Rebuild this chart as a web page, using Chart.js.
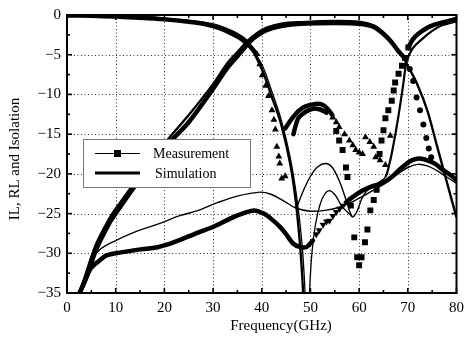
<!DOCTYPE html>
<html>
<head>
<meta charset="utf-8">
<script src="https://cdn.jsdelivr.net/npm/chart.js@4.4.1/dist/chart.umd.min.js"></script>
<style>
  html, body { margin: 0; padding: 0; background: #fff; }
</style>
</head>
<body>
<canvas id="chart" width="470" height="342"></canvas>
<script>
// axis ticks
const freqTicks = [0, 10, 20, 30, 40, 50, 60, 70, 80];
const levelTicks = [0, -5, -10, -15, -20, -25, -30, -35];

// simulated responses, [GHz, dB]
const simLowpass = [[0, 0], [5, -0.05], [10, -0.12], [15, -0.25], [20, -0.45], [25, -0.75], [30, -1.2], [33, -1.8], [35, -2.4], [37, -3.3], [40, -6.8], [42, -10.2], [44, -13.8], [45.8, -18.6], [47, -23.5], [48, -30], [48.5, -35], [48.8, -40]];
const simLowpassStop = [[37, -3.4], [40, -6.2], [42, -9.5], [44, -13.2], [45.8, -17.8], [47.2, -23], [48.3, -29], [48.9, -35], [49.35, -42], [49.8, -35], [50.3, -30], [51, -26.5], [52, -23.8], [53, -22.5], [53.9, -22.1], [55, -22.6], [56.6, -24.2], [58.6, -25.4]];
const simBandpass = [[2.6, -35], [4, -32.3], [6, -28.8], [8.7, -25.6], [10, -24.4], [13.4, -21.5], [17, -18.5], [20.8, -15.6], [25, -12.6], [30, -8.7], [33, -6], [35.7, -4.2], [37, -3.3], [39, -2.3], [41, -1.6], [44, -1.1], [48, -0.9], [55, -0.75], [60, -0.85], [63, -1.3], [65, -2.2], [67, -3.6], [69, -5.3], [70, -6.4], [72, -8.8], [74, -12], [76, -16.5], [78, -21], [80, -25.5]];
const simHighpass = [[47.2, -24.2], [48.5, -22.2], [50, -20.3], [51.5, -19.1], [53.2, -18.7], [54.5, -19.2], [56, -21], [57.5, -23.6], [58.6, -25.4], [59.5, -24.8], [60.5, -23.2], [61.5, -22.2], [62.7, -21.7], [64, -21.1], [65.4, -20.4], [66.2, -18.8], [67, -16.5], [68, -13], [69, -9], [69.8, -5.8], [71, -4.2], [72.8, -3.1], [75, -2], [77, -1.3], [80, -0.8]];
const simIsolation = [[2.6, -35], [4, -32.5], [5.5, -30.5], [7, -29.4], [10, -28.4], [14, -27.3], [18.8, -26.3], [23, -25.3], [27, -24.6], [31, -23.6], [35, -22.8], [39.7, -22.3], [42, -22.6], [44.5, -23.4], [47, -24.3], [50, -24.7], [53, -24.6], [56, -24.2], [59, -23.4], [62, -22.4], [65, -21.3], [68, -20], [70, -19.2], [72, -18.8], [74, -19], [76, -19.6], [78, -20.4], [80, -21.2]];

// measured responses, [GHz, dB]
const meaLowpassTrace = [[0, -0.05], [5, -0.1], [10, -0.2], [15, -0.35], [20, -0.55], [25, -0.85], [28, -1.1], [30, -1.4], [32, -1.8], [34, -2.4], [36, -3.1], [37.5, -3.9], [38.5, -4.6]];
const meaLowpassMarks = [[39, -4.9], [39.6, -6.2], [40.1, -7.6], [40.8, -8.9], [41.4, -10.2], [42.1, -12], [42.5, -13.2], [42.8, -14.4], [43.1, -16.6], [43.5, -17.8], [43.7, -18.7], [44.1, -20.6], [44.8, -20.3]];
const meaLowpassHump = [[46.5, -15], [47.5, -13], [49, -12.2], [50.5, -11.8], [52, -11.9], [53.3, -12.3]];
const meaLowpassTail = [[54.6, -12.9], [55.3, -13.5], [55.9, -14.1], [57, -15], [58, -15.8], [58.7, -16.4], [59.3, -17], [60, -17.3], [60.7, -17.5], [61.3, -15.4], [62.2, -16], [63, -16.6], [63.4, -17.9], [64.3, -18.3], [65.4, -18.9], [66.4, -15.2]];
const meaBandpassTrace = [[2.6, -35], [4, -33], [6, -29.5], [8.7, -26.2], [10, -25], [13.4, -22], [17, -19], [20.8, -16.2], [25, -13.5], [30, -9.3], [33, -6.6], [35.7, -4.7], [37.5, -3.4], [39, -2.6], [41, -1.9], [44, -1.4], [48, -1.1], [55, -1], [60, -1.1], [63, -1.5], [65, -2.4], [66.5, -3.3], [68, -4.5], [69, -5.2]];
const meaBandpassMarks = [[69.6, -5.4], [70.4, -6.8], [71.1, -8.3], [71.8, -10.4], [72.5, -12], [73.2, -13.8], [73.8, -15.5], [74.3, -16.8], [74.8, -17.9]];
const meaReturnHump = [[44.8, -14.3], [46, -13.2], [47.5, -12.1], [49, -11.5], [51, -11.2], [52.5, -11.3], [53.5, -11.8], [54.5, -12.6]];
const meaReturnMarks = [[55.3, -14.6], [55.9, -15.8], [56.6, -17], [57.3, -19.2], [57.6, -20.4], [58.3, -24], [59, -28], [59.6, -30.5], [60, -31.5], [60.5, -30.5], [61.2, -28.6], [61.7, -27], [62.3, -24.6], [63, -23.3], [63.6, -22], [64.2, -17.5], [64.6, -15.8], [65, -14.5], [65.4, -13], [66, -12], [66.7, -10.8], [67.1, -9.5], [67.4, -8.5], [68.1, -7.4], [68.8, -6.4], [69.4, -5.4], [70.1, -4.1]];
const meaHighpassTrace = [[70.1, -4.1], [71, -3.1], [72.1, -2.4], [74, -1.6], [75.5, -1.2], [78, -0.8], [80, -0.5]];
const meaIsolationTrace = [[2.6, -35], [4, -33], [5, -31.8], [6.7, -30.9], [8, -30.3], [10, -30], [14, -29.6], [18.8, -29.2], [22, -28.6], [26.9, -27.4], [30.3, -26.6], [33.6, -25.6], [36, -25], [38.4, -24.6], [40.4, -25], [42, -25.7], [43.8, -26.7], [45, -27.6], [46.5, -28.8], [47.8, -29.2], [49.2, -29.2], [50.5, -28.4]];
const meaIsolationMarks = [[51.2, -27.6], [51.8, -27.1], [52.6, -26.4], [53.3, -26], [53.9, -25.9], [54.6, -25.3], [55.3, -24.8], [56, -24.4], [56.7, -24]];
const meaIsolationTail = [[57.3, -23.6], [58.5, -23], [60.7, -22.1], [62.5, -21.6], [64.7, -21.2], [66.7, -20.4], [68.8, -19.2], [70.8, -18.3], [72.8, -18.1], [75.5, -18.7], [77, -19.4], [78.9, -20.2], [80, -20.8]];

const legendItems = ['Measurement', 'Simulation'];
const xTitle = 'Frequency(GHz)';
const yTitle = 'IL, RL and Isolation';

const pts = arr => arr.map(([x, y]) => ({ x, y }));
const INK = '#000';
const SERIF = "'Liberation Serif', 'DejaVu Serif', serif";

function curve(data, width) {
  return { data: pts(data), showLine: true, borderColor: INK, borderWidth: width, pointRadius: 0, tension: 0.35, clip: 0 };
}
function trace(data) {
  return { data: pts(data), showLine: true, borderColor: INK, borderWidth: 4.5, pointRadius: 0, tension: 0.3, clip: 0, borderCapStyle: 'round' };
}
function marks(data, style, radius, rotation) {
  return { data: pts(data), showLine: false, pointStyle: style, pointRadius: radius, pointRotation: rotation || 0, backgroundColor: INK, borderColor: INK, borderWidth: 0, clip: 0 };
}

const highpass = curve(simHighpass, 2.2);
highpass.segment = { borderWidth: c => (c.p0.parsed.x < 65 ? 1.4 : 2.2) };

const datasets = [
  trace(meaLowpassTrace),
  marks(meaLowpassMarks, 'triangle', 4),
  trace(meaLowpassHump),
  marks(meaLowpassTail, 'triangle', 4),
  trace(meaBandpassTrace),
  marks(meaBandpassMarks, 'circle', 3),
  trace(meaReturnHump),
  marks(meaReturnMarks, 'rect', 4.2),
  trace(meaHighpassTrace),
  trace(meaIsolationTrace),
  marks(meaIsolationMarks, 'triangle', 4, 180),
  trace(meaIsolationTail),
  curve(simLowpass, 2.4),
  curve(simLowpassStop, 1.3),
  curve(simBandpass, 2.4),
  highpass,
  curve(simIsolation, 1.4)
];

// dotted grid, boxed frame with inward ticks, axis titles and the inset legend
const framePlugin = {
  id: 'frame',
  beforeDatasetsDraw(chart) {
    const { ctx, chartArea: a, scales: { x, y } } = chart;
    ctx.save();
    ctx.strokeStyle = '#333';
    ctx.lineWidth = 1;
    ctx.setLineDash([1, 2.5]);
    freqTicks.slice(1, -1).forEach(v => {
      const px = Math.round(x.getPixelForValue(v)) + 0.5;
      ctx.beginPath(); ctx.moveTo(px, a.top); ctx.lineTo(px, a.bottom); ctx.stroke();
    });
    levelTicks.slice(1, -1).forEach(v => {
      const py = Math.round(y.getPixelForValue(v)) + 0.5;
      ctx.beginPath(); ctx.moveTo(a.left, py); ctx.lineTo(a.right, py); ctx.stroke();
    });
    ctx.restore();
  },
  afterDatasetsDraw(chart) {
    const { ctx, chartArea: a, scales: { x, y } } = chart;
    ctx.save();
    ctx.strokeStyle = INK;
    ctx.lineWidth = 2;
    ctx.strokeRect(a.left, a.top, a.right - a.left, a.bottom - a.top);

    ctx.lineWidth = 1.6;
    const tick = (x1, y1, x2, y2) => { ctx.beginPath(); ctx.moveTo(x1, y1); ctx.lineTo(x2, y2); ctx.stroke(); };
    for (let i = 0; i < freqTicks.length * 2 - 1; i++) {
      const px = x.getPixelForValue(freqTicks[0] + i * 5);
      const len = i % 2 === 0 ? 5 : 3;
      tick(px, a.bottom, px, a.bottom - len);
      tick(px, a.top, px, a.top + len);
    }
    for (let i = 0; i < levelTicks.length * 2 - 1; i++) {
      const py = y.getPixelForValue(levelTicks[0] - i * 2.5);
      const len = i % 2 === 0 ? 5 : 3;
      tick(a.left, py, a.left + len, py);
      tick(a.right, py, a.right - len, py);
    }

    // axis titles
    ctx.fillStyle = INK;
    ctx.font = '15px ' + SERIF;
    ctx.textAlign = 'center';
    ctx.textBaseline = 'middle';
    ctx.fillText(xTitle, 281, 326);
    ctx.save();
    ctx.translate(15, 159);
    ctx.rotate(-Math.PI / 2);
    ctx.fillText(yTitle, 0, 0);
    ctx.restore();

    // legend box
    const bx = 83, by = 139, bw = 167, bh = 48;
    ctx.fillStyle = '#fff';
    ctx.fillRect(bx, by, bw, bh);
    ctx.strokeStyle = '#777';
    ctx.lineWidth = 1;
    ctx.strokeRect(bx + 0.5, by + 0.5, bw, bh);

    ctx.strokeStyle = INK;
    ctx.fillStyle = INK;
    ctx.lineWidth = 1;
    tick(95, 153.5, 140, 153.5);
    ctx.fillRect(114, 150, 7, 7);
    ctx.lineWidth = 3;
    tick(95, 173, 140, 173);

    ctx.font = '14px ' + SERIF;
    ctx.textAlign = 'left';
    ctx.fillText(legendItems[0], 153, 154);
    ctx.fillText(legendItems[1], 155, 174);
    ctx.restore();
  }
};

new Chart(document.getElementById('chart'), {
  type: 'scatter',
  data: { datasets },
  options: {
    responsive: false,
    animation: false,
    layout: { padding: { top: 14, right: 8, bottom: 4, left: 0 } },
    plugins: { legend: { display: false }, tooltip: { enabled: false } },
    scales: {
      x: {
        type: 'linear', min: 0, max: 80,
        afterBuildTicks: s => { s.ticks = freqTicks.map(value => ({ value })); },
        afterFit: s => { s.height = 45; },
        grid: { display: false, drawTicks: false },
        border: { display: false },
        ticks: { color: INK, padding: 6, font: { family: SERIF, size: 15 } }
      },
      y: {
        type: 'linear', min: -35, max: 0,
        afterBuildTicks: s => { s.ticks = levelTicks.map(value => ({ value })); },
        afterFit: s => { s.width = 67; },
        grid: { display: false, drawTicks: false },
        border: { display: false },
        ticks: {
          color: INK, padding: 6, font: { family: SERIF, size: 15 },
          callback: v => (v < 0 ? '\u2212' + Math.abs(v) : String(v))
        }
      }
    }
  },
  plugins: [framePlugin]
});
</script>
</body>
</html>
